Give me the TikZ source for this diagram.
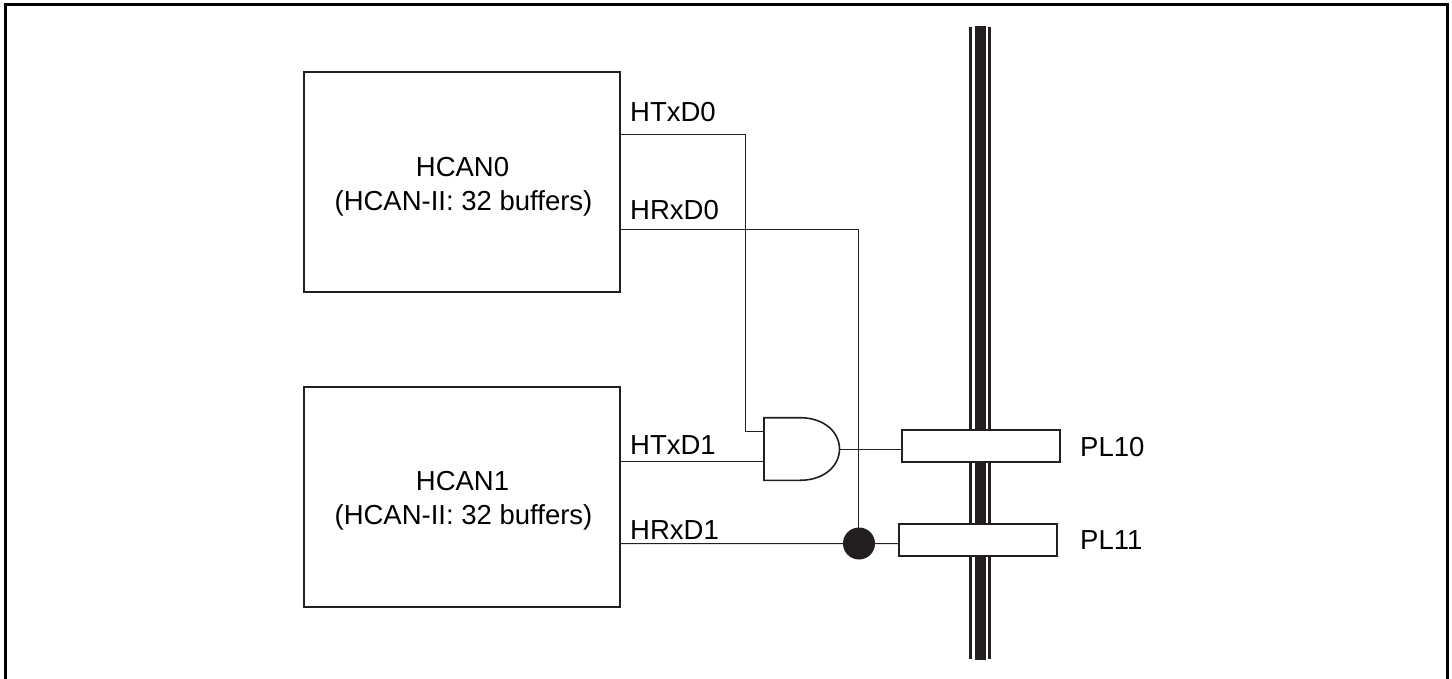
\documentclass[tikz,border=0pt]{standalone}
\usepackage{fontspec}
\setmainfont{Liberation Sans}
\definecolor{ink}{HTML}{231F20}
\tikzset{
  x=1pt,y=-1pt,
  block/.style={draw=ink,line width=2pt,fill=white,inner sep=0pt,outer sep=0pt,minimum width=316pt,minimum height=220pt,align=center},
  pin/.style={draw=ink,line width=2pt,fill=white,inner sep=0pt,outer sep=0pt,minimum width=158pt,minimum height=32pt},
  wire/.style={draw=ink,line width=1pt,line join=miter},
  lab/.style={anchor=base west,inner sep=0pt,font=\fontsize{27.5}{33}\selectfont},
  txt/.style={anchor=base,inner sep=0pt,font=\fontsize{27.5}{33}\selectfont}
}
\begin{document}
\begin{tikzpicture}
\useasboundingbox (0,0) rectangle (1452,679);
% frame
\draw[black,line width=3pt] (5.5,679) -- (5.5,4.7) -- (1447.5,4.7) -- (1447.5,679);
% bus
\coordinate (bt1) at (970.5,27); \coordinate (bb1) at (970.5,659);
\coordinate (bt2) at (980,26); \coordinate (bb2) at (980,660);
\coordinate (bt3) at (989.5,27); \coordinate (bb3) at (989.5,659);
\draw[ink,line width=2.4pt] (bt1) -- (bb1);
\draw[ink,line width=11pt] (bt2) -- (bb2);
\draw[ink,line width=2.4pt] (bt3) -- (bb3);
% blocks
\node[block,anchor=north west] (h0) at (304,72) {};
\node[block,anchor=north west] (h1) at (304,386.5) {};
\node[txt] (h0a) at (462.5,176.7) {HCAN0};
\node[txt] (h0b) at (463.5,210.7) {(HCAN-II: 32 buffers)};
\node[txt] (h1a) at (462.5,490.7) {HCAN1};
\node[txt] (h1b) at (463.5,524.3) {(HCAN-II: 32 buffers)};
% pins
\node[pin,anchor=north west] (p10) at (902.3,430.2) {};
\node[pin,anchor=north west] (p11) at (899.2,523.8) {};
\node[lab] (p10l) at (1080,456.7) {PL10};
\node[lab] (p11l) at (1080,549.3) {PL11};
% gate
\coordinate (gi0) at (764,431.7);
\coordinate (gi1) at (764,461.3);
\coordinate (go) at (839.5,449);
\draw[ink,line width=1.6pt,fill=white] (764,417.7) -- (800,417.7) .. controls (824,417.7) and (839.5,432) .. (go) .. controls (839.5,466) and (824,480.3) .. (800,480.3) -- (764,480.3) -- cycle;
% wires
\coordinate (tx0s) at (620,135); \coordinate (tx0c) at (745,135); \coordinate (tx0d) at (745,431.7);
\coordinate (rx0s) at (620,229.5); \coordinate (rx0c) at (858.5,229.5);
\coordinate (tx1s) at (620,461.3);
\coordinate (rx1s) at (620,543.7);
\node[circle,fill=ink,inner sep=0pt,minimum size=32pt] (dot) at (859,543.5) {};
\coordinate (dott) at (858.5,543.5);
\coordinate (p10w) at (902.3,449);
\coordinate (p11w) at (899.2,543.7);
\draw[wire] (tx0s) -- (tx0c) -- (tx0d) -- (gi0);
\draw[wire] (rx0s) -- (rx0c) -- (dott);
\draw[wire] (tx1s) -- (gi1);
\draw[wire] (rx1s) -- (dot);
\draw[wire] (dot) -- (p11w);
\draw[wire] (go) -- (p10w);
% labels
\node[lab] (l1) at (630,121.7) {HTxD0};
\node[lab] (l2) at (630,219.3) {HRxD0};
\node[lab] (l3) at (630,454) {HTxD1};
\node[lab] (l4) at (630,539.3) {HRxD1};
\end{tikzpicture}
\end{document}
